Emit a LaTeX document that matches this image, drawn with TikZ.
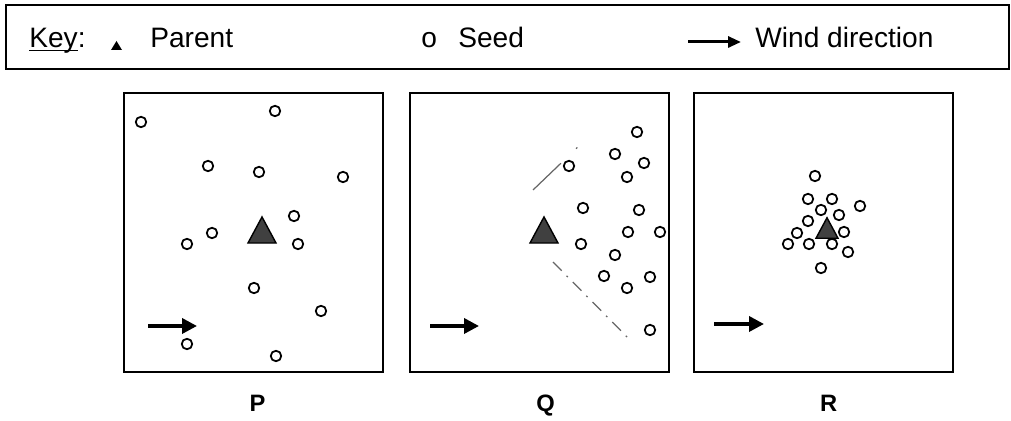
\documentclass[tikz,border=0pt]{standalone}
\usepackage{fontspec}
\setmainfont{Liberation Sans}
\usetikzlibrary{positioning, arrows.meta}

\tikzset{
  panel/.style={draw, line width=1.2pt, minimum width=5.18cm, minimum height=5.58cm, inner sep=0pt},
  seed/.style={draw, circle, line width=1pt, minimum size=0.21cm, inner sep=0pt},
  wind/.style={line width=2pt, -{Triangle[length=0.3cm, width=0.3cm]}},
  keytext/.style={anchor=base west, inner sep=0pt, font=\fontsize{16}{19}\selectfont},
  lab/.style={font=\fontsize{13.5}{16}\selectfont\bfseries},
  spread/.style={black!60, line width=0.7pt},
}
% parent plant: centre x, centre y, half width
\newcommand{\parenttri}[3]{\draw[line width=0.8pt, fill=black!75] (#1-#3,#2+#3*0.93) -- (#1,#2-#3*0.93) -- (#1+#3,#2+#3*0.93) -- cycle;}

\begin{document}
\begin{tikzpicture}[x=0.02cm, y=-0.02cm]
    \useasboundingbox (0,0) rectangle (1011,421);

    % key
    \node[draw, line width=1.1pt, minimum width=20.06cm, minimum height=1.28cm] (key) at (507.5,37) {};
    \node[keytext] (keyword) at (29,48)  {\underline{Ke\smash{y}}:};
    \fill (111,50) -- (116.5,41) -- (122,50) -- cycle;
    \node[keytext] (parent)  at (150,48) {Parent};
    \node[keytext] (seedsym) at (421,48) {o};
    \node[keytext] (seed)    at (458,48) {Seed};
    \node[keytext] (wind)    at (755,48) {Wind direction};
    \coordinate (w1) at (688,42);
    \coordinate (w2) at (741,42);
    \draw[line width=1.7pt, -{Triangle[length=0.26cm, width=0.22cm]}] (w1) -- (w2);

    % panels
    \node[panel]                  (P) at (253.5,232.5) {};
    \node[panel, right=0.5cm of P]  (Q) {};
    \node[panel, right=0.46cm of Q] (R) {};

    \node[lab, below=0.32cm of P, xshift=0.08cm] (labP) {P};
    \node[lab, below=0.32cm of Q, xshift=0.12cm] (labQ) {Q};
    \node[lab, below=0.32cm of R, xshift=0.1cm]  (labR) {R};

    % P: seeds spread far
    \foreach \x/\y [count=\i] in {141/122, 275/111, 208/166, 259/172, 343/177, 294/216, 212/233,
        187/244, 298/244, 254/288, 321/311, 187/344, 276/356}
        \node[seed] (p\i) at (\x,\y) {};
    \parenttri{262}{230}{14}
    \coordinate (pa) at (148,326);
    \coordinate (pb) at (197,326);
    \draw[wind] (pa) -- (pb);

    % Q: seeds blown downwind
    \foreach \x/\y [count=\i] in {637/132, 615/154, 569/166, 644/163, 627/177, 583/208, 639/210,
        628/232, 660/232, 581/244, 615/255, 604/276, 650/277, 627/288, 650/330}
        \node[seed] (q\i) at (\x,\y) {};
    \parenttri{544}{230}{14}
    \draw[spread, dash pattern=on 22pt off 12pt on 1pt off 20pt] (533,190) -- (581,144);
    \draw[spread, dash pattern=on 7pt off 4pt on 1pt off 4pt] (553,262) -- (632,342);
    \coordinate (qa) at (430,326);
    \coordinate (qb) at (479,326);
    \draw[wind] (qa) -- (qb);

    % R: seeds close to the parent
    \parenttri{827}{228}{11}
    \foreach \x/\y [count=\i] in {815/176, 808/199, 832/199, 860/206, 821/210, 839/215, 808/221,
        797/233, 844/232, 788/244, 809/244, 832/244, 848/252, 821/268}
        \node[seed, fill=white] (r\i) at (\x,\y) {};
    \coordinate (ra) at (714,324);
    \coordinate (rb) at (764,324);
    \draw[wind] (ra) -- (rb);
\end{tikzpicture}
\end{document}
